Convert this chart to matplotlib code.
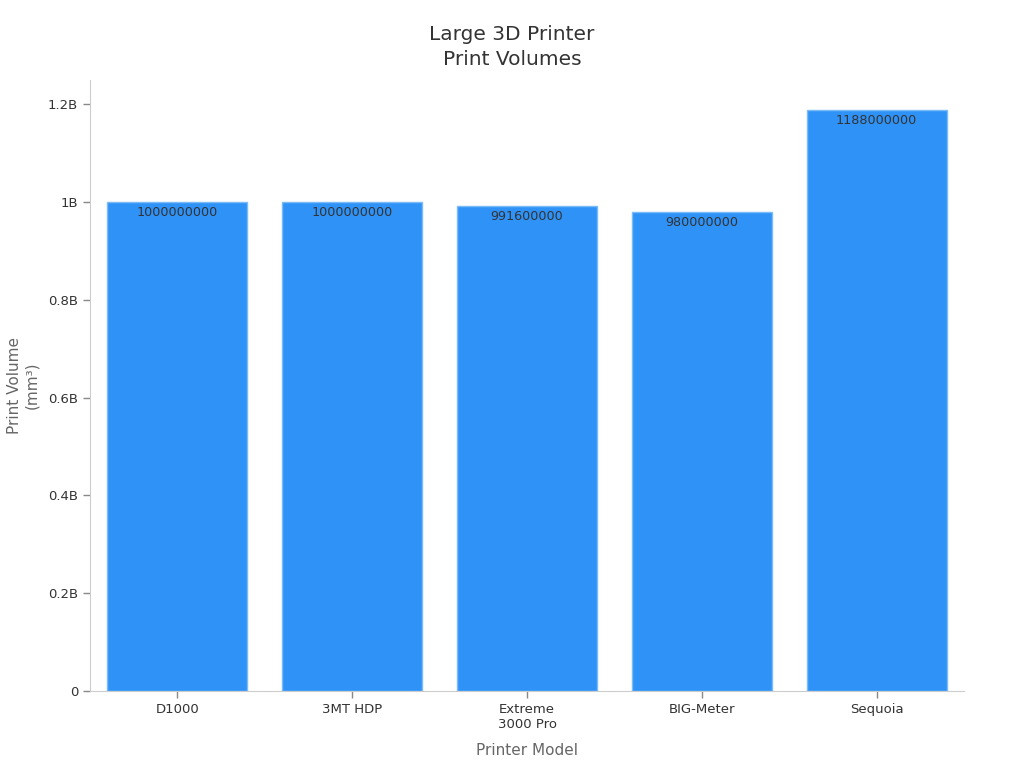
import matplotlib.pyplot as plt
from matplotlib.ticker import FuncFormatter

models = ["D1000", "3MT HDP", "Extreme\n3000 Pro", "BIG-Meter", "Sequoia"]
volumes = [1000000000, 1000000000, 991600000, 980000000, 1188000000]

def fmt_b(v, pos):
    if v == 0:
        return "0"
    s = "{:.1f}".format(v / 1e9).rstrip("0").rstrip(".")
    return s + "B"

fig = plt.figure(figsize=(10.24, 7.68), dpi=100)
ax = fig.add_axes([0.0879, 0.1003, 0.8535, 0.7957])

x = range(len(models))
ax.bar(x, volumes, width=0.8, color="#2f92f7", edgecolor="#7bbcf7", linewidth=1)
for i, v in zip(x, volumes):
    ax.text(i, v - 0.008e9, str(v), ha="center", va="top", fontsize=9.2, color="#333333")

ax.set_xlim(-0.5, len(models) - 0.5)
ax.set_ylim(0, 1.25e9)
ax.set_yticks([0, 0.2e9, 0.4e9, 0.6e9, 0.8e9, 1.0e9, 1.2e9])
ax.yaxis.set_major_formatter(FuncFormatter(fmt_b))
ax.set_xticks(list(x))
ax.set_xticklabels(models)
ax.tick_params(axis="both", labelsize=9.5, colors="#333333", length=5, width=1)
ax.tick_params(axis="both", color="#888888")

for side in ["top", "right"]:
    ax.spines[side].set_visible(False)
for side in ["left", "bottom"]:
    ax.spines[side].set_color("#cccccc")

ax.set_xlabel("Printer Model", fontsize=11, color="#666666")
ax.xaxis.set_label_coords(0.5, -0.085)
ax.set_ylabel("Print Volume\n(mm³)", fontsize=11, color="#666666")
ax.yaxis.set_label_coords(-0.058, 0.5)
fig.text(0.5, 0.968, "Large 3D Printer\nPrint Volumes", ha="center", va="top",
         fontsize=14.5, color="#333333", linespacing=1.45)

plt.savefig("out.png")
